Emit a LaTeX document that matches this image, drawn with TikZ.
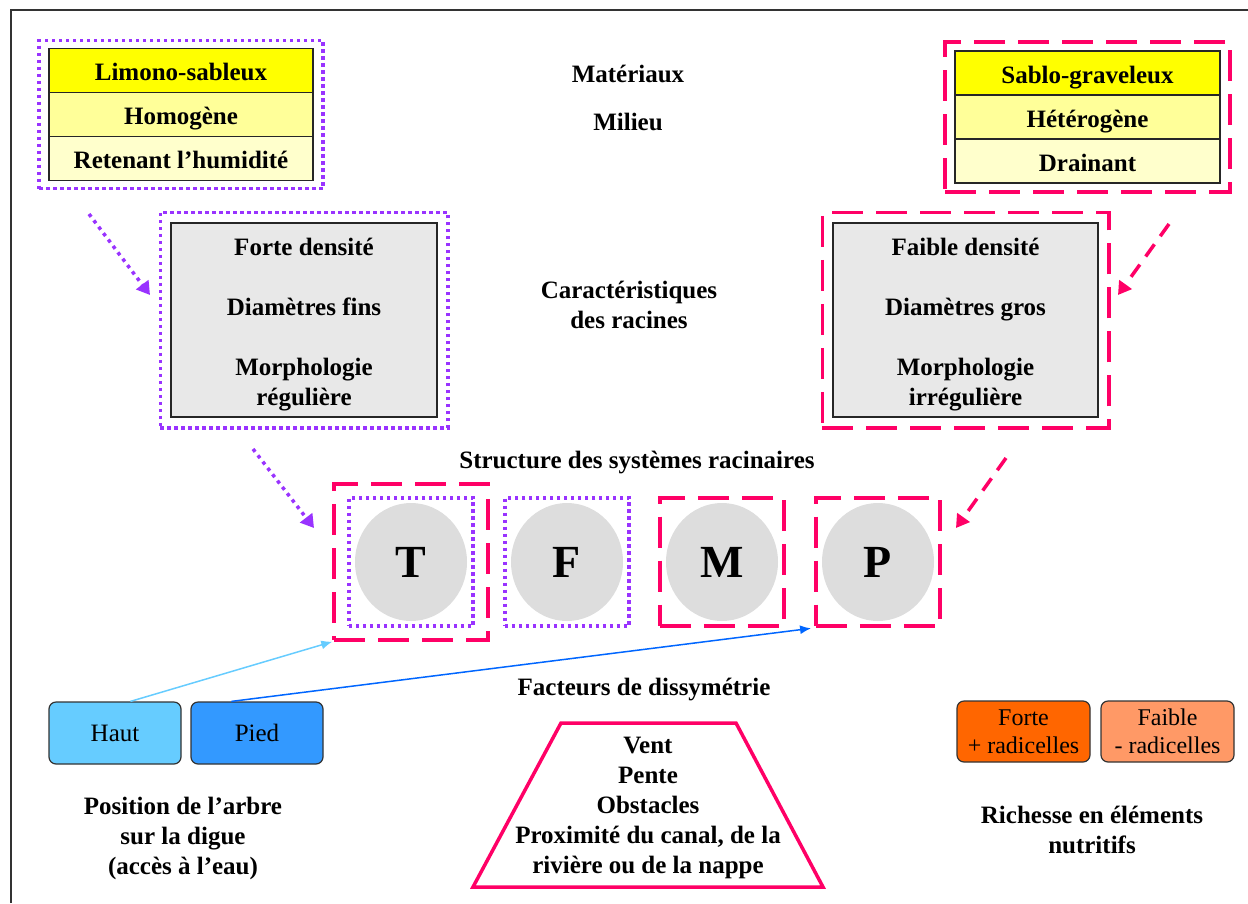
\documentclass[tikz,border=0pt]{standalone}
\usepackage{fontspec}
\setmainfont{Liberation Serif}
\definecolor{rootPurple}{HTML}{9933FF}
\definecolor{rootPink}{HTML}{FF0066}
\definecolor{soilYellow}{HTML}{FFFF00}
\definecolor{soilPale}{HTML}{FFFF99}
\definecolor{soilPaler}{HTML}{FFFFCC}
\definecolor{boxGray}{HTML}{E8E8E8}
\definecolor{ballGray}{HTML}{DDDDDD}
\definecolor{hautBlue}{HTML}{66CCFF}
\definecolor{piedBlue}{HTML}{3399FF}
\definecolor{piedLine}{HTML}{0066FF}
\definecolor{forteOrange}{HTML}{FF6600}
\definecolor{faibleOrange}{HTML}{FF9966}
\usetikzlibrary{shapes.geometric, arrows.meta, positioning, calc, fit}
\newcommand{\bigbf}{\fontsize{25}{30}\selectfont\bfseries}

\begin{document}
\begin{tikzpicture}[x=1pt, y=-1pt,
  lbl/.style={align=center, font=\bigbf, inner sep=0pt},
  soilrow/.style={draw=black!85, line width=1.6pt, outer sep=0pt, minimum width=264pt,
    minimum height=44pt, text height=25pt, text depth=5pt, inner ysep=0pt, font=\bigbf},
  graybox/.style={draw=black!85, line width=1.5pt, fill=boxGray, minimum width=266pt,
    minimum height=194pt, align=center, font=\bigbf},
  dotframe/.style={draw=rootPurple, line width=3.5pt, dash pattern=on 3.5pt off 3.5pt},
  dashframe/.style={draw=rootPink, line width=3.5pt, dash pattern=on 31pt off 13pt},
  rootball/.style={ellipse, fill=ballGray, minimum width=112pt, minimum height=118pt,
    inner sep=0pt, font=\fontsize{46}{50}\selectfont\bfseries},
  posbox/.style={draw=black!80, line width=1.2pt, rounded corners=7pt, minimum width=132pt,
    minimum height=62pt, font=\fontsize{25}{30}\selectfont},
  nutbox/.style={draw=black!80, line width=1.2pt, rounded corners=7pt, minimum width=133pt,
    minimum height=61pt, align=center, inner sep=0pt, font=\fontsize{24}{28}\selectfont},
  arr/.style={-{Latex[length=11pt,width=9pt]}, line width=1.5pt}]

  \useasboundingbox (0,0) rectangle (1248,903);
  \draw[black!80, line width=1.5pt] (11,903) -- (11,10) -- (1248,10);

  % Soil tables
  \node[soilrow, fill=soilYellow] (limono) at (181,70.5) {Limono-sableux};
  \node[soilrow, fill=soilPale, below=0pt of limono] (homogene) {Homogène};
  \node[soilrow, fill=soilPaler, below=0pt of homogene] (retenant) {Retenant l’humidité};
  \node[dotframe, fit=(limono)(retenant), inner xsep=10pt, inner ysep=8pt] (leftsoil) {};

  \node[soilrow, fill=soilYellow, minimum width=265pt] (sablo) at (1087.5,73) {Sablo-graveleux};
  \node[soilrow, fill=soilPale, minimum width=265pt, below=0pt of sablo] (hetero) {Hétérogène};
  \node[soilrow, fill=soilPaler, minimum width=265pt, below=0pt of hetero] (drainant) {Drainant};
  \node[dashframe, fit=(sablo)(drainant), inner xsep=10pt, inner ysep=9pt] (rightsoil) {};

  % Root characteristics
  \node[graybox] (fine) at (304,320)
    {\rule{0pt}{27pt}Forte densité\\[30pt]Diamètres fins\\[30pt]Morphologie\\régulière};
  \node[dotframe, fit=(fine), inner sep=10pt] (fineframe) {};
  \node[graybox, minimum width=265pt] (coarse) at (965.5,320)
    {\rule{0pt}{27pt}Faible densité\\[30pt]Diamètres gros\\[30pt]Morphologie\\irrégulière};
  \node[dashframe, fit=(coarse), inner sep=10pt] (coarseframe) {};

  % Middle titles
  \node[lbl] (materiaux) at (628,74) {Matériaux};
  \node[lbl] (milieu) at (628,122) {Milieu};
  \node[lbl] (carac) at (629,305) {Caractéristiques\\des racines};
  \node[lbl] (structure) at (637,463) {Structure des systèmes racinaires};

  % Root system types
  \node[rootball] (T) at (411,562) {T};
  \node[rootball] (F) at (567,562) {F};
  \node[rootball] (M) at (722,562) {M};
  \node[rootball] (P) at (878,562) {P};
  \node[dotframe, fit=(T), inner xsep=6pt, inner ysep=5pt] (Tin) {};
  \node[dashframe, fit=(Tin), inner xsep=13pt, inner ysep=12pt] (Tout) {};
  \node[dotframe, fit=(F), inner xsep=6pt, inner ysep=5pt] (Fin) {};
  \node[dashframe, fit=(M), inner xsep=6pt, inner ysep=5pt] (Mbox) {};
  \node[dashframe, fit=(P), inner xsep=6pt, inner ysep=5pt] (Pbox) {};

  % Links between levels
  \coordinate (lsoilout) at (89,214);
  \coordinate (lfinein) at (150,295);
  \coordinate (rsoilout) at (1169,224);
  \coordinate (rcoarsein) at (1118,295);
  \coordinate (lfineout) at (253,449);
  \coordinate (Tin-arr) at (314,528);
  \coordinate (rcoarseout) at (1006,458);
  \coordinate (Pin-arr) at (956,528);
  \draw[rootPurple, line width=3.5pt, dash pattern=on 3.5pt off 4.5pt,
    -{Triangle[length=13pt,width=15pt]}] (lsoilout) -- (lfinein);
  \draw[rootPurple, line width=3.5pt, dash pattern=on 3.5pt off 4.5pt,
    -{Triangle[length=13pt,width=15pt]}] (lfineout) -- (Tin-arr);
  \draw[rootPink, line width=3.5pt, dash pattern=on 15pt off 10pt,
    -{Triangle[length=13pt,width=15pt]}] (rsoilout) -- (rcoarsein);
  \draw[rootPink, line width=3.5pt, dash pattern=on 15pt off 10pt,
    -{Triangle[length=13pt,width=15pt]}] (rcoarseout) -- (Pin-arr);

  % Position on the dyke
  \node[posbox, fill=hautBlue] (haut) at (115,733) {Haut};
  \node[posbox, fill=piedBlue] (pied) at (257,733) {Pied};
  \node[lbl] (position) at (183,838) {Position de l’arbre\\sur la digue\\(accès à l’eau)};
  \draw[arr, hautBlue] (haut.64) -- (Tout.south west);
  \draw[arr, piedLine, shorten >=3pt] (pied.129) -- (Pbox.south west);

  % Asymmetry factors
  \node[lbl] (facteurs) at (644,690) {Facteurs de dissymétrie};
  \draw[rootPink, line width=3.5pt, line join=miter]
    (561,723) -- (736,723) -- (823,887) -- (473,887) -- cycle;
  \node[lbl] (factlist) at (648,808)
    {Vent\\Pente\\Obstacles\\Proximité du canal, de la\\rivière ou de la nappe};

  % Nutrient richness
  \node[nutbox, fill=forteOrange] (forte) at (1023.5,731.5) {Forte\\+ radicelles};
  \node[nutbox, fill=faibleOrange] (faible) at (1167.5,731.5) {Faible\\- radicelles};
  \node[lbl] (richesse) at (1092,830) {Richesse en éléments\\nutritifs};
\end{tikzpicture}
\end{document}
